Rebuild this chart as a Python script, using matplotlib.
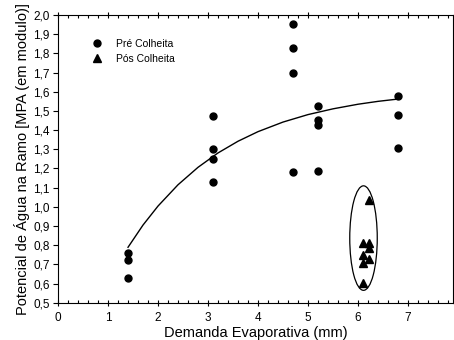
import matplotlib
matplotlib.use('Agg')
import matplotlib.pyplot as plt
from matplotlib.patches import Ellipse
from matplotlib.ticker import FuncFormatter, MultipleLocator

plt.rcParams['font.family'] = ['Liberation Sans', 'DejaVu Sans']

# Pré Colheita (circles)
pre_x = [1.4, 1.4, 1.4, 3.1, 3.1, 3.1, 3.1, 4.7, 4.7, 4.7, 4.7, 5.2, 5.2, 5.2, 5.2, 6.8, 6.8, 6.8]
pre_y = [0.757, 0.722, 0.629, 1.476, 1.302, 1.25, 1.127, 1.953, 1.826, 1.70, 1.18,
         1.528, 1.453, 1.427, 1.187, 1.578, 1.478, 1.309]

# Pós Colheita (triangles)
pos_x = [6.21, 6.09, 6.21, 6.22, 6.09, 6.21, 6.09, 6.09]
pos_y = [1.036, 0.811, 0.811, 0.785, 0.75, 0.729, 0.707, 0.603]

# fitted curve
fit_x = [1.4, 1.7, 2.0, 2.4, 2.8, 3.2, 3.6, 4.0, 4.5, 5.0, 5.5, 6.0, 6.4, 6.8]
fit_y = [0.789, 0.905, 1.004, 1.115, 1.206, 1.281, 1.342, 1.392, 1.442, 1.481,
         1.511, 1.535, 1.550, 1.562]

# ellipse around the post-harvest group
ell_center = (6.11, 0.837)
ell_size = (0.55, 0.545)

fig = plt.figure(figsize=(4.54, 3.40), dpi=100)
ax = fig.add_axes([0.1278, 0.1097, 0.870, 0.846])

ax.plot(fit_x, fit_y, color='black', lw=1.0)
ax.plot(pre_x, pre_y, 'o', color='black', ms=5, label='Pré Colheita')
ax.plot(pos_x, pos_y, '^', color='black', ms=5.5, label='Pós Colheita')
ax.add_patch(Ellipse(ell_center, ell_size[0], ell_size[1], fill=False, color='black', lw=0.9))

ax.set_xlim(0, 7.9)
ax.set_ylim(0.5, 2.0)
ax.xaxis.set_major_locator(MultipleLocator(1))
ax.xaxis.set_minor_locator(MultipleLocator(0.2))
ax.yaxis.set_major_locator(MultipleLocator(0.1))
ax.yaxis.set_major_formatter(FuncFormatter(lambda v, p: f'{v:.1f}'.replace('.', ',')))
ax.xaxis.set_major_formatter(FuncFormatter(lambda v, p: f'{v:.0f}'))

ax.tick_params(axis='both', which='major', labelsize=8.5, length=4, width=0.8,
               direction='inout', top=True, right=True)
ax.tick_params(axis='both', which='minor', length=2.5, width=0.8, direction='in',
               top=True, right=True)
ax.tick_params(axis='y', which='major', direction='out', length=3.5, pad=2.5)
ax.tick_params(axis='x', which='major', pad=5)
for s in ax.spines.values():
    s.set_linewidth(0.8)

ax.set_xlabel('Demanda Evaporativa (mm)', fontsize=10.5, labelpad=1)
ax.set_ylabel('Potencial de Água na Ramo [MPA (em modulo)]', fontsize=10.5, labelpad=2)

ax.legend(loc='upper left', bbox_to_anchor=(0.06, 0.95), frameon=False, fontsize=7.5,
          handletextpad=1.2, labelspacing=0.45, handlelength=1.2)

fig.savefig('out.png', dpi=100)
